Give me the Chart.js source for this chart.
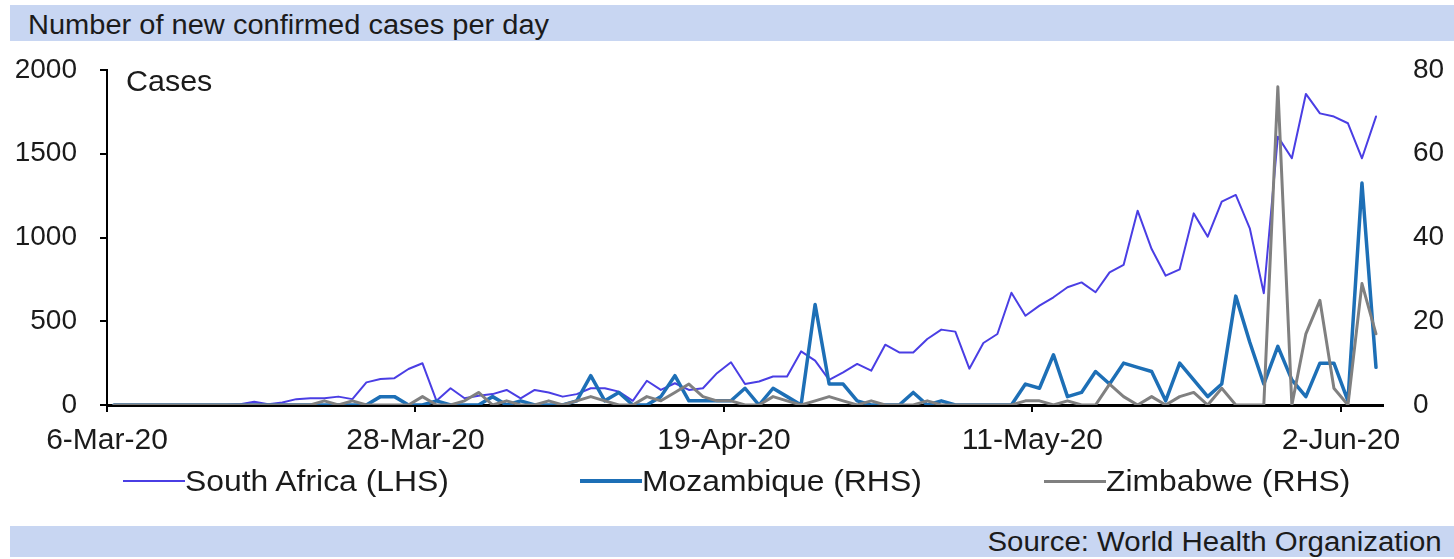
<!DOCTYPE html>
<html>
<head>
<meta charset="utf-8">
<script src="https://cdn.jsdelivr.net/npm/chart.js@4.4.1/dist/chart.umd.min.js"></script>
<style>
html, body { margin: 0; padding: 0; background: #ffffff; }
#wrap { position: relative; width: 1454px; height: 559px; overflow: hidden; font-family: "Liberation Sans", Arial, sans-serif; color: #1b1b1b; }
.band { position: absolute; left: 10px; right: 0; background: #c8d6f2; }
#titleBand { top: 5px; height: 36px; }
#sourceBand { top: 526px; height: 31px; }
#title { position: absolute; left: 28px; top: 12px; font-size: 27px; line-height: 27px; white-space: nowrap; transform-origin: 0 0; transform: scaleX(1.075); }
#source { position: absolute; right: 12px; top: 529px; font-size: 27px; line-height: 27px; white-space: nowrap; transform-origin: 100% 0; transform: scaleX(1.09); }
#cases { position: absolute; left: 126px; top: 67px; font-size: 29px; line-height: 29px; white-space: nowrap; transform-origin: 0 0; transform: scaleX(1.05); }
#chart { position: absolute; left: 0; top: 0; }
.legItem { position: absolute; top: 466px; height: 30px; line-height: 30px; display: flex; align-items: center; white-space: nowrap; font-size: 29.5px; }
.legLine { display: inline-block; width: 62px; }
.legText { display: inline-block; transform-origin: 0 50%; transform: scaleX(1.08); }
</style>
</head>
<body>
<div id="wrap">
  <div class="band" id="titleBand"></div>
  <div class="band" id="sourceBand"></div>
  <div id="title">Number of new confirmed cases per day</div>
  <div id="source">Source: World Health Organization</div>
  <canvas id="chart" width="1454" height="559"></canvas>
  <div id="cases">Cases</div>
  <div id="legend"></div>
</div>
<script>
// ---- Data ----
const categories = [
  '6-Mar-20','7-Mar-20','8-Mar-20','9-Mar-20','10-Mar-20','11-Mar-20','12-Mar-20','13-Mar-20','14-Mar-20','15-Mar-20',
  '16-Mar-20','17-Mar-20','18-Mar-20','19-Mar-20','20-Mar-20','21-Mar-20','22-Mar-20','23-Mar-20','24-Mar-20','25-Mar-20',
  '26-Mar-20','27-Mar-20','28-Mar-20','29-Mar-20','30-Mar-20','31-Mar-20',
  '1-Apr-20','2-Apr-20','3-Apr-20','4-Apr-20','5-Apr-20','6-Apr-20','7-Apr-20','8-Apr-20','9-Apr-20','10-Apr-20',
  '11-Apr-20','12-Apr-20','13-Apr-20','14-Apr-20','15-Apr-20','16-Apr-20','17-Apr-20','18-Apr-20','19-Apr-20','20-Apr-20',
  '21-Apr-20','22-Apr-20','23-Apr-20','24-Apr-20','25-Apr-20','26-Apr-20','27-Apr-20','28-Apr-20','29-Apr-20','30-Apr-20',
  '1-May-20','2-May-20','3-May-20','4-May-20','5-May-20','6-May-20','7-May-20','8-May-20','9-May-20','10-May-20',
  '11-May-20','12-May-20','13-May-20','14-May-20','15-May-20','16-May-20','17-May-20','18-May-20','19-May-20','20-May-20',
  '21-May-20','22-May-20','23-May-20','24-May-20','25-May-20','26-May-20','27-May-20','28-May-20','29-May-20','30-May-20',
  '31-May-20','1-Jun-20','2-Jun-20','3-Jun-20','4-Jun-20'
];
const tickLabels = ['6-Mar-20', '28-Mar-20', '19-Apr-20', '11-May-20', '2-Jun-20'];
const seriesNames = ['South Africa (LHS)', 'Mozambique (RHS)', 'Zimbabwe (RHS)'];

const southAfrica = [
  0, 0, 0, 0, 0, 0, 0, 0, 0, 5,
  20, 5, 15, 35, 40, 40, 50, 35, 135, 155,
  160, 215, 249, 25, 100, 40,
  55, 65, 90, 40, 90, 75, 50, 65, 100, 100,
  80, 25, 145, 90, 130, 90, 100, 190, 255, 125,
  140, 170, 170, 320, 265, 150, 195, 245, 205, 360,
  314, 314, 394, 450, 438, 217, 370, 424, 670, 533,
  593, 643, 703, 732, 673, 792, 836, 1160, 931, 772,
  810, 1144, 1005, 1214, 1254, 1055, 667, 1602, 1473, 1857,
  1741, 1722, 1682, 1473, 1722
];
const mozambique = [
  0, 0, 0, 0, 0, 0, 0, 0, 0, 0,
  0, 0, 0, 0, 0, 0, 0, 0, 0, 2,
  2, 0, 0, 1, 0, 0,
  0, 2, 0, 1, 0, 0, 0, 1, 7, 1,
  3, 0, 0, 2, 7, 1, 1, 1, 1, 4,
  0, 4, 2, 0, 24, 5, 5, 1, 0, 0,
  0, 3, 0, 1, 0, 0, 0, 0, 0, 5,
  4, 12, 2, 3, 8, 5, 10, 9, 8, 1,
  10, 6, 2, 5, 26, 15, 5, 14, 6, 2,
  10, 10, 1, 53, 9
];
const zimbabwe = [
  0, 0, 0, 0, 0, 0, 0, 0, 0, 0,
  0, 0, 0, 0, 0, 1, 0, 1, 0, 0,
  0, 0, 2, 0, 0, 1,
  3, 0, 1, 0, 0, 1, 0, 1, 2, 1,
  0, 0, 2, 1, 3, 5, 2, 1, 1, 0,
  0, 2, 1, 0, 1, 2, 1, 0, 1, 0,
  0, 0, 1, 0, 0, 0, 0, 0, 0, 1,
  1, 0, 1, 0, 0, 5, 2, 0, 2, 0,
  2, 3, 0, 4, 0, 0, 0, 76, 0, 17,
  25, 4, 0, 29, 17
];
const leftAxis = { min: 0, max: 2000, step: 500 };
const rightAxis = { min: 0, max: 80, step: 20 };

// ---- Styles ----
const FONT = '"Liberation Sans", Arial, sans-serif';
const TXT = '#1b1b1b';
const colors = ['#4a3ee4', '#1d6fb6', '#808080'];
const widths = [2, 3.5, 3];
const legendLefts = [123, 580, 1044];

// points sit in the middle of each day's slot (date axis "between tick marks")
const toPoints = arr => arr.map((v, i) => ({ x: i + 0.5, y: v }));
const plain = v => String(v);

const chart = new Chart(document.getElementById('chart'), {
  type: 'line',
  data: {
    labels: categories,
    datasets: [
      { label: seriesNames[0], data: toPoints(southAfrica), yAxisID: 'y', borderColor: colors[0], backgroundColor: colors[0], borderWidth: widths[0], order: 3 },
      { label: seriesNames[1], data: toPoints(mozambique), yAxisID: 'y1', borderColor: colors[1], backgroundColor: colors[1], borderWidth: widths[1], order: 2 },
      { label: seriesNames[2], data: toPoints(zimbabwe), yAxisID: 'y1', borderColor: colors[2], backgroundColor: colors[2], borderWidth: widths[2], order: 1 }
    ]
  },
  options: {
    responsive: false,
    animation: false,
    devicePixelRatio: 1,
    elements: { point: { radius: 0, hoverRadius: 0 }, line: { tension: 0, borderJoinStyle: 'round', borderCapStyle: 'round' } },
    layout: { padding: { top: 70, left: 0, right: 0, bottom: 0 } },
    plugins: { legend: { display: false }, title: { display: false }, tooltip: { enabled: false } },
    scales: {
      x: {
        type: 'linear', position: 'bottom', min: 0, max: categories.length, z: 1,
        afterBuildTicks: s => { s.ticks = tickLabels.map(l => ({ value: categories.indexOf(l) })); },
        afterFit: s => { s.height = 154; },
        ticks: {
          autoSkip: false, maxRotation: 0, minRotation: 0, padding: 11, color: TXT,
          font: { family: FONT, size: 30 },
          callback: v => categories[v]
        },
        grid: { drawOnChartArea: false, drawTicks: true, tickLength: 7, color: '#000', lineWidth: 2 },
        border: { display: true, color: '#000', width: 3 }
      },
      y: {
        position: 'left', min: leftAxis.min, max: leftAxis.max,
        afterFit: s => { s.width = 107; },
        ticks: { stepSize: leftAxis.step, padding: 23, color: TXT, font: { family: FONT, size: 28 }, callback: plain },
        grid: { drawOnChartArea: false, drawTicks: true, tickLength: 7, color: '#000', lineWidth: 2 },
        border: { display: true, color: '#000', width: 2 }
      },
      y1: {
        position: 'right', min: rightAxis.min, max: rightAxis.max,
        afterFit: s => { s.width = 71; },
        ticks: { stepSize: rightAxis.step, padding: 30, color: TXT, font: { family: FONT, size: 28 }, callback: plain },
        grid: { display: false, drawOnChartArea: false, drawTicks: false },
        border: { display: false }
      }
    }
  }
});

// ---- HTML legend built from the chart's own legend items ----
const items = Chart.defaults.plugins.legend.labels.generateLabels(chart)
  .sort((a, b) => a.datasetIndex - b.datasetIndex);
const legendEl = document.getElementById('legend');
items.forEach((it, k) => {
  const d = document.createElement('div');
  d.className = 'legItem';
  d.style.left = legendLefts[k] + 'px';
  const line = document.createElement('span');
  line.className = 'legLine';
  line.style.height = Math.max(2, it.lineWidth) + 'px';
  line.style.background = it.strokeStyle;
  const t = document.createElement('span');
  t.className = 'legText';
  t.textContent = it.text;
  d.appendChild(line);
  d.appendChild(t);
  legendEl.appendChild(d);
});
</script>
</body>
</html>
